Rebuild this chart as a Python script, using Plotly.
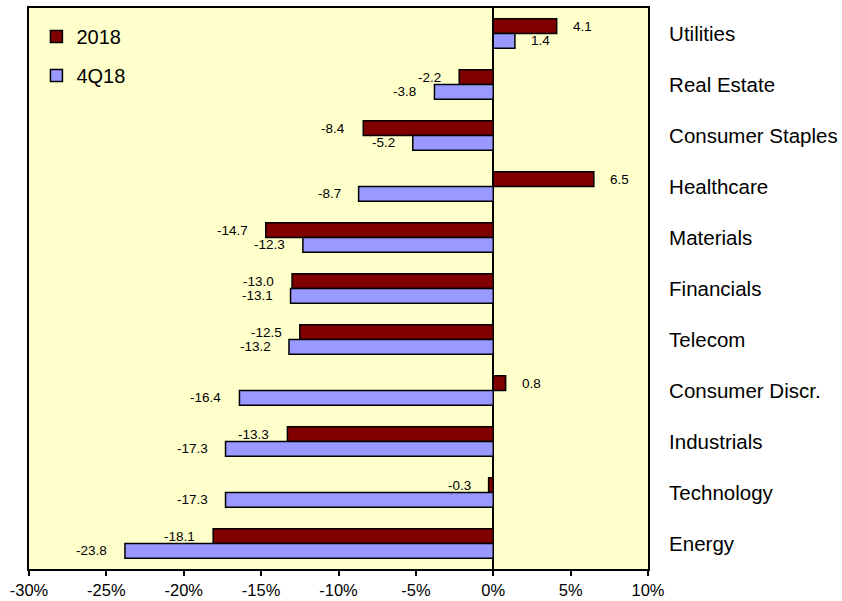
import plotly.graph_objects as go

# Sector returns (%), listed top to bottom
sectors = ["Utilities", "Real Estate", "Consumer Staples", "Healthcare", "Materials",
           "Financials", "Telecom", "Consumer Discr.", "Industrials", "Technology", "Energy"]
ret_2018 = [4.1, -2.2, -8.4, 6.5, -14.7, -13.0, -12.5, 0.8, -13.3, -0.3, -18.1]
ret_4q18 = [1.4, -3.8, -5.2, -8.7, -12.3, -13.1, -13.2, -16.4, -17.3, -17.3, -23.8]
x_ticks = [-30, -25, -20, -15, -10, -5, 0, 5, 10]

FONT = "Arial, Liberation Sans, sans-serif"

fig = go.Figure()
fig.add_trace(go.Bar(
    name="2018", y=sectors, x=ret_2018, orientation="h",
    marker=dict(color="#800000", line=dict(color="black", width=1.5)),
    legendgroup="a",
))
fig.add_trace(go.Bar(
    name="4Q18", y=sectors, x=ret_4q18, orientation="h",
    marker=dict(color="#9999FF", line=dict(color="black", width=1.5)),
    legendgroup="b",
))

# value labels just beyond each bar end
annotations = []
for series, shift in ((ret_2018, 7), (ret_4q18, -7)):
    for cat, v in zip(sectors, series):
        annotations.append(dict(
            x=v, y=cat, xref="x", yref="y", text=f"{v:.1f}", showarrow=False,
            xanchor="left" if v >= 0 else "right",
            xshift=14 if v >= 0 else -16, yshift=shift,
            font=dict(family=FONT, size=13.5, color="black"),
        ))

fig.update_layout(
    width=842, height=601,
    margin=dict(l=29, r=194, t=8, b=32),
    paper_bgcolor="white", plot_bgcolor="#FFFFCC",
    barmode="group", bargap=0.42, bargroupgap=0,
    font=dict(family=FONT, color="black"),
    showlegend=True,
    legend=dict(
        x=0.012, y=0.984, xanchor="left", yanchor="top",
        bgcolor="rgba(0,0,0,0)", borderwidth=0,
        font=dict(family=FONT, size=20, color="black"),
        traceorder="grouped", tracegroupgap=10,
    ),
    annotations=annotations,
)
fig.update_xaxes(
    range=[-30, 10], tickvals=x_ticks, ticktext=[f"{t}%" for t in x_ticks],
    ticks="outside", ticklen=5, tickwidth=1.5, tickcolor="black",
    ticklabelstandoff=0, automargin=False,
    showgrid=False, showline=True, linecolor="black", linewidth=2, mirror=True,
    zeroline=True, zerolinecolor="black", zerolinewidth=2,
    tickfont=dict(family=FONT, size=16.5, color="black"),
)
fig.update_yaxes(
    categoryorder="array", categoryarray=sectors, autorange="reversed",
    side="right", ticks="", ticklabelstandoff=15, automargin=False,
    showgrid=False, showline=True, linecolor="black", linewidth=2, mirror=True,
    tickfont=dict(family=FONT, size=20.5, color="black"),
)

fig.write_html("out.html")
